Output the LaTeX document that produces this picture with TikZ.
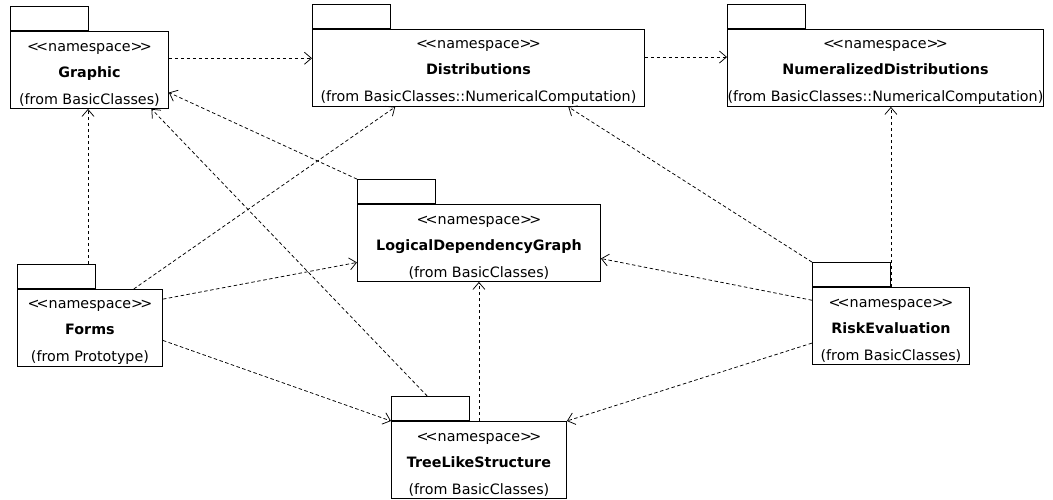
\documentclass[tikz,border=0pt]{standalone}
\usepackage{fontspec}
\setmainfont{DejaVu Sans}
\usetikzlibrary{arrows.meta,calc}
% stereotype label, kerned so the guillemet pairs sit close together;
% the strut pushes the three-line block a little lower in its box
\newcommand\nsstereo{\rule{0pt}{17pt}<\kern-0.2em<namespace>\kern-0.2em>}
\begin{document}
\begin{tikzpicture}[x=1pt,y=-1pt,
  pkg/.style={draw, line width=0.9pt, anchor=north west, minimum height=77pt,
    inner sep=0pt, align=center, font=\fontsize{14.3}{26.5}\selectfont},
  pkgtab/.style={draw, line width=0.9pt, anchor=south west, minimum width=78pt,
    minimum height=24pt, inner sep=0pt},
  dep/.style={dash pattern=on 3.5pt off 2.5pt, line width=0.75pt,
    -{Straight Barb[length=7pt,width=12pt,line width=0.75pt]}}]
\useasboundingbox (0,0) rectangle (1053,499);

% packages
\node[pkg, minimum width=158pt] (G) at (10,31)
  {\nsstereo\\\textbf{Graphic}\\(from BasicClasses)};
\node[pkg, minimum width=332pt] (D) at (312,29)
  {\nsstereo\\\textbf{Distributions}\\(from BasicClasses::NumericalComputation)};
\node[pkg, minimum width=316pt] (N) at (727,29)
  {\nsstereo\\\textbf{NumeralizedDistributions}\\(from BasicClasses::NumericalComputation)};
\node[pkg, minimum width=243pt] (L) at (357,204)
  {\nsstereo\\\textbf{LogicalDependencyGraph}\\(from BasicClasses)};
\node[pkg, minimum width=145pt] (F) at (17,289)
  {\nsstereo\\\textbf{Forms}\\(from Prototype)};
\node[pkg, minimum width=157pt] (R) at (812,287)
  {\nsstereo\\\textbf{RiskEvaluation}\\(from BasicClasses)};
\node[pkg, minimum width=175pt] (T) at (391,421)
  {\nsstereo\\\textbf{TreeLikeStructure}\\(from BasicClasses)};

% package tabs
\foreach \p in {G,D,N,L,F,R,T}
  \node[pkgtab] (\p t) at (\p.north west) {};

% dependencies
\draw[dep] ($(G.north east)!0.35!(G.south east)$) coordinate (gd) -- (gd -| D.west);
\draw[dep] ($(D.north east)!0.36!(D.south east)$) coordinate (dn) -- (dn -| N.west);
\draw[dep] ($(Ft.north west)!0.9!(Ft.north east)$) coordinate (fg) -- (fg |- G.south);
\draw[dep] ($(F.north west)!0.8!(F.north east)$) -- ($(D.south west)!0.25!(D.south east)$);
\draw[dep] ($(F.north east)!0.13!(F.south east)$) -- ($(L.north west)!0.75!(L.south west)$);
\draw[dep] ($(F.north east)!0.66!(F.south east)$) -- (T.north west);
\draw[dep] ($(Tt.north west)!0.46!(Tt.north east)$) -- ($(G.south west)!0.89!(G.south east)$);
\draw[dep] (Lt.north west) -- ($(G.north east)!0.79!(G.south east)$);
\draw[dep] (T.north) -- (T.north |- L.south);
\draw[dep] ($(R.north west)!0.17!(R.south west)$) -- ($(L.north east)!0.7!(L.south east)$);
\draw[dep] ($(R.north west)!0.72!(R.south west)$) -- (T.north east);
\draw[dep] (Rt.north west) -- ($(D.south west)!0.77!(D.south east)$);
\draw[dep] (Rt.south east) -- (Rt.south east |- N.south);
\end{tikzpicture}
\end{document}
